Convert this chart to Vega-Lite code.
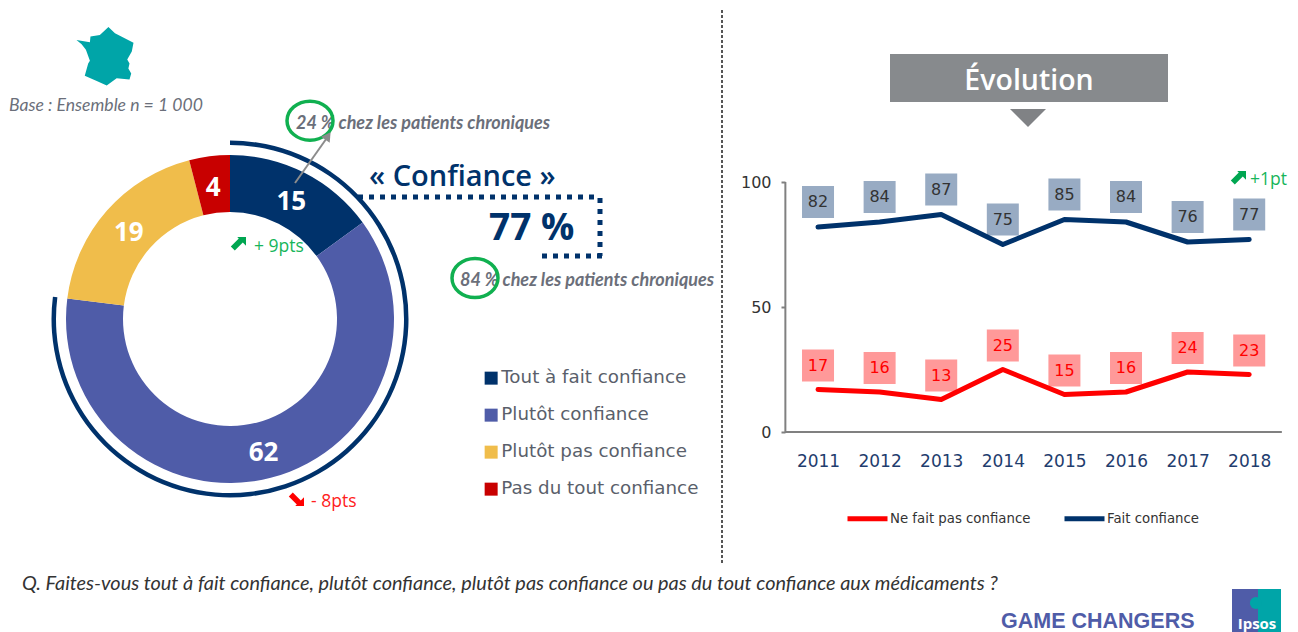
{"$schema":"https://vega.github.io/schema/vega-lite/v6.json","padding":0,"background":"white","spacing":0,"bounds":"flush","resolve":{"scale":{"color":"independent"},"legend":{"color":"independent"}},"config":{"view":{"stroke":null}},
"datasets":{"donut":[{"categorie":"Tout à fait confiance","valeur":15,"ordre":1},{"categorie":"Plutôt confiance","valeur":62,"ordre":2},{"categorie":"Plutôt pas confiance","valeur":19,"ordre":3},{"categorie":"Pas du tout confiance","valeur":4,"ordre":4}],
"evolution":[{"annee":2011,"serie":"Ne fait pas confiance","valeur":17},{"annee":2012,"serie":"Ne fait pas confiance","valeur":16},{"annee":2013,"serie":"Ne fait pas confiance","valeur":13},{"annee":2014,"serie":"Ne fait pas confiance","valeur":25},{"annee":2015,"serie":"Ne fait pas confiance","valeur":15},{"annee":2016,"serie":"Ne fait pas confiance","valeur":16},{"annee":2017,"serie":"Ne fait pas confiance","valeur":24},{"annee":2018,"serie":"Ne fait pas confiance","valeur":23},{"annee":2011,"serie":"Fait confiance","valeur":82},{"annee":2012,"serie":"Fait confiance","valeur":84},{"annee":2013,"serie":"Fait confiance","valeur":87},{"annee":2014,"serie":"Fait confiance","valeur":75},{"annee":2015,"serie":"Fait confiance","valeur":85},{"annee":2016,"serie":"Fait confiance","valeur":84},{"annee":2017,"serie":"Fait confiance","valeur":76},{"annee":2018,"serie":"Fait confiance","valeur":77}]},
"hconcat":[
{"width":785,"height":632,"layer":[
{"data":{"name":"donut"},"transform":[{"stack":"valeur","groupby":[],"sort":[{"field":"ordre","order":"ascending"}],"as":["debut","fin"]}],"mark":{"type":"arc","radius":164,"radius2":107},"encoding":{"x":{"datum":230,"type":"quantitative","scale":{"domain":[0,785]},"axis":null},"y":{"datum":319,"type":"quantitative","scale":{"domain":[632,0]},"axis":null},"theta":{"field":"debut","type":"quantitative","stack":null,"scale":{"domain":[0,100]}},"theta2":{"field":"fin"},"color":{"field":"categorie","type":"nominal","scale":{"domain":["Tout à fait confiance","Plutôt confiance","Plutôt pas confiance","Pas du tout confiance"],"range":["#00326b","#4f5ca8","#f0bd4b","#c80000"]},"legend":{"title":null,"orient":"none","direction":"vertical","legendX":482,"legendY":369,"symbolType":"square","symbolSize":169,"symbolStrokeWidth":0,"labelFont":"DejaVu Sans","labelFontSize":18.3,"labelColor":"#5a5f6b","labelOffset":1,"rowPadding":18,"labelLimit":300}}}},
{"data":{"name":"donut"},"transform":[{"stack":"valeur","groupby":[],"sort":[{"field":"ordre","order":"ascending"}],"as":["debut","fin"]},{"calculate":"(datum.debut+datum.fin)/2","as":"milieu"}],"mark":{"type":"text","radius":135,"dy":3,"font":"Open Sans","fontWeight":"bold","fontSize":26,"color":"white","baseline":"middle","align":"center"},"encoding":{"x":{"datum":230,"type":"quantitative","scale":{"domain":[0,785]},"axis":null},"y":{"datum":319,"type":"quantitative","scale":{"domain":[632,0]},"axis":null},"theta":{"field":"milieu","type":"quantitative","stack":null,"scale":{"domain":[0,100]}},"text":{"field":"valeur","type":"quantitative"}}},
{"data":{"values":[{"debut":0,"confiance":77}]},"mark":{"type":"arc","radius":174,"radius2":178.5,"color":"#00326b"},"encoding":{"x":{"datum":230,"type":"quantitative","scale":{"domain":[0,785]},"axis":null},"y":{"datum":319,"type":"quantitative","scale":{"domain":[632,0]},"axis":null},"theta":{"field":"debut","type":"quantitative","stack":null,"scale":{"domain":[0,100]}},"theta2":{"field":"confiance"}}},
{"data":{"values":[{"t":"France"}]},"mark":{"type":"point","filled":true,"opacity":1,"color":"#00a5a8","size":3249,"shape":"M-1,-.59L-.53,-.51L-.51,-.71L-.18,-.76L.12,-1.04L.35,-.82L1,-.49L.94,-.18L.78,.1L.86,.24L.82,.41L.92,.59L.86,.8L.41,.76L.06,1.01L-.29,.85L-.71,.67L-.59,.24L-.53,.14L-.67,-.24L-.82,-.44Z"},"encoding":{"x":{"datum":105,"type":"quantitative","scale":{"domain":[0,785]},"axis":null},"y":{"datum":56.7,"type":"quantitative","scale":{"domain":[632,0]},"axis":null}}},
{"data":{"values":[{"t":"Base : Ensemble n = 1 000"}]},"mark":{"type":"text","align":"left","baseline":"middle","font":"Lato","fontStyle":"italic","fontSize":17.6,"color":"#6b6f7a"},"encoding":{"x":{"datum":9,"type":"quantitative","scale":{"domain":[0,785]},"axis":null},"y":{"datum":106,"type":"quantitative","scale":{"domain":[632,0]},"axis":null},"text":{"field":"t"}}},
{"data":{"values":[{"t":"24 % chez les patients chroniques"}]},"mark":{"type":"text","align":"left","baseline":"middle","font":"Lato","fontStyle":"italic","fontWeight":"bold","fontSize":18,"color":"#6b6f7a"},"encoding":{"x":{"datum":296,"type":"quantitative","scale":{"domain":[0,785]},"axis":null},"y":{"datum":124,"type":"quantitative","scale":{"domain":[632,0]},"axis":null},"text":{"field":"t"}}},
{"data":{"values":[{"t":"84 % chez les patients chroniques"}]},"mark":{"type":"text","align":"left","baseline":"middle","font":"Lato","fontStyle":"italic","fontWeight":"bold","fontSize":18,"color":"#6b6f7a"},"encoding":{"x":{"datum":460,"type":"quantitative","scale":{"domain":[0,785]},"axis":null},"y":{"datum":281,"type":"quantitative","scale":{"domain":[632,0]},"axis":null},"text":{"field":"t"}}},
{"data":{"values":[{"t":"cercle"}]},"mark":{"type":"point","filled":false,"opacity":1,"color":"#10b050","strokeWidth":3.5,"size":2116,"shape":"M-1,0C-1,-.47,-.55,-.85,0,-.85C.55,-.85,1,-.47,1,0C1,.47,.55,.85,0,.85C-.55,.85,-1,.47,-1,0Z"},"encoding":{"x":{"datum":310,"type":"quantitative","scale":{"domain":[0,785]},"axis":null},"y":{"datum":120.7,"type":"quantitative","scale":{"domain":[632,0]},"axis":null}}},
{"data":{"values":[{"t":"cercle"}]},"mark":{"type":"point","filled":false,"opacity":1,"color":"#10b050","strokeWidth":3.5,"size":2116,"shape":"M-1,0C-1,-.47,-.55,-.85,0,-.85C.55,-.85,1,-.47,1,0C1,.47,.55,.85,0,.85C-.55,.85,-1,.47,-1,0Z"},"encoding":{"x":{"datum":475,"type":"quantitative","scale":{"domain":[0,785]},"axis":null},"y":{"datum":278,"type":"quantitative","scale":{"domain":[632,0]},"axis":null}}},
{"data":{"values":[{"t":"fleche"}]},"mark":{"type":"rule","color":"#8c8c8c","strokeWidth":2},"encoding":{"x":{"datum":295,"type":"quantitative","scale":{"domain":[0,785]},"axis":null},"y":{"datum":183,"type":"quantitative","scale":{"domain":[632,0]},"axis":null},"x2":{"datum":329},"y2":{"datum":135}}},
{"data":{"values":[{"t":"pointe"}]},"mark":{"type":"point","shape":"triangle-up","filled":true,"opacity":1,"color":"#8c8c8c","size":110,"angle":35},"encoding":{"x":{"datum":328,"type":"quantitative","scale":{"domain":[0,785]},"axis":null},"y":{"datum":136,"type":"quantitative","scale":{"domain":[632,0]},"axis":null}}},
{"data":{"values":[{"t":"« Confiance »"}]},"mark":{"type":"text","align":"left","baseline":"middle","font":"Open Sans","fontWeight":600,"fontSize":29,"color":"#00326b"},"encoding":{"x":{"datum":369,"type":"quantitative","scale":{"domain":[0,785]},"axis":null},"y":{"datum":177,"type":"quantitative","scale":{"domain":[632,0]},"axis":null},"text":{"field":"t"}}},
{"data":{"values":[{"t":"77 %"}]},"mark":{"type":"text","align":"left","baseline":"middle","font":"Open Sans","fontWeight":"bold","fontSize":37,"color":"#00326b"},"encoding":{"x":{"datum":489,"type":"quantitative","scale":{"domain":[0,785]},"axis":null},"y":{"datum":229,"type":"quantitative","scale":{"domain":[632,0]},"axis":null},"text":{"field":"t"}}},
{"data":{"values":[{"t":"cadre"}]},"mark":{"type":"rule","color":"#00326b","strokeWidth":5,"strokeDash":[5,6]},"encoding":{"x":{"datum":358,"type":"quantitative","scale":{"domain":[0,785]},"axis":null},"y":{"datum":197,"type":"quantitative","scale":{"domain":[632,0]},"axis":null},"x2":{"datum":600}}},
{"data":{"values":[{"t":"cadre"}]},"mark":{"type":"rule","color":"#00326b","strokeWidth":5,"strokeDash":[5,6]},"encoding":{"x":{"datum":600,"type":"quantitative","scale":{"domain":[0,785]},"axis":null},"y":{"datum":198,"type":"quantitative","scale":{"domain":[632,0]},"axis":null},"y2":{"datum":256}}},
{"data":{"values":[{"t":"cadre"}]},"mark":{"type":"rule","color":"#00326b","strokeWidth":5,"strokeDash":[5,6]},"encoding":{"x":{"datum":542,"type":"quantitative","scale":{"domain":[0,785]},"axis":null},"y":{"datum":256,"type":"quantitative","scale":{"domain":[632,0]},"axis":null},"x2":{"datum":602}}},
{"data":{"values":[{"t":"hausse"}]},"mark":{"type":"point","filled":true,"opacity":1,"color":"#00a651","size":256,"shape":"M-.1,-1L1,-1L1,.1L.6,-.3L-.4,.7L-.9,.2L.1,-.8Z"},"encoding":{"x":{"datum":238,"type":"quantitative","scale":{"domain":[0,785]},"axis":null},"y":{"datum":245,"type":"quantitative","scale":{"domain":[632,0]},"axis":null}}},
{"data":{"values":[{"t":"+ 9pts"}]},"mark":{"type":"text","align":"left","baseline":"middle","font":"Open Sans","fontSize":17.5,"color":"#17b55a"},"encoding":{"x":{"datum":254,"type":"quantitative","scale":{"domain":[0,785]},"axis":null},"y":{"datum":247,"type":"quantitative","scale":{"domain":[632,0]},"axis":null},"text":{"field":"t"}}},
{"data":{"values":[{"t":"baisse"}]},"mark":{"type":"point","filled":true,"opacity":1,"color":"#ff0000","size":256,"shape":"M-.1,1L1,1L1,-.1L.6,.3L-.4,-.7L-.9,-.2L.1,.8Z"},"encoding":{"x":{"datum":296,"type":"quantitative","scale":{"domain":[0,785]},"axis":null},"y":{"datum":498,"type":"quantitative","scale":{"domain":[632,0]},"axis":null}}},
{"data":{"values":[{"t":"- 8pts"}]},"mark":{"type":"text","align":"left","baseline":"middle","font":"Open Sans","fontSize":17.5,"color":"#ff2020"},"encoding":{"x":{"datum":311,"type":"quantitative","scale":{"domain":[0,785]},"axis":null},"y":{"datum":502,"type":"quantitative","scale":{"domain":[632,0]},"axis":null},"text":{"field":"t"}}},
{"data":{"values":[{"t":"separateur"}]},"mark":{"type":"rule","color":"#555555","strokeWidth":2,"strokeDash":[3,2]},"encoding":{"x":{"datum":722,"type":"quantitative","scale":{"domain":[0,785]},"axis":null},"y":{"datum":10,"type":"quantitative","scale":{"domain":[632,0]},"axis":null},"y2":{"datum":565}}},
{"data":{"values":[{"t":"bandeau"}]},"mark":{"type":"rect","color":"#878a8d"},"encoding":{"x":{"datum":890,"type":"quantitative","scale":{"domain":[0,785]},"axis":null},"y":{"datum":54,"type":"quantitative","scale":{"domain":[632,0]},"axis":null},"x2":{"datum":1168},"y2":{"datum":102}}},
{"data":{"values":[{"t":"Évolution"}]},"mark":{"type":"text","align":"center","baseline":"middle","font":"Open Sans","fontWeight":600,"fontSize":28.5,"color":"white"},"encoding":{"x":{"datum":1029,"type":"quantitative","scale":{"domain":[0,785]},"axis":null},"y":{"datum":81,"type":"quantitative","scale":{"domain":[632,0]},"axis":null},"text":{"field":"t"}}},
{"data":{"values":[{"t":"triangle"}]},"mark":{"type":"point","filled":true,"opacity":1,"color":"#808285","size":1296,"shape":"M-1,-.5L1,-.5L0,.5Z"},"encoding":{"x":{"datum":1028,"type":"quantitative","scale":{"domain":[0,785]},"axis":null},"y":{"datum":118,"type":"quantitative","scale":{"domain":[632,0]},"axis":null}}},
{"data":{"values":[{"t":"hausse"}]},"mark":{"type":"point","filled":true,"opacity":1,"color":"#00a651","size":256,"shape":"M-.1,-1L1,-1L1,.1L.6,-.3L-.4,.7L-.9,.2L.1,-.8Z"},"encoding":{"x":{"datum":1238,"type":"quantitative","scale":{"domain":[0,785]},"axis":null},"y":{"datum":179,"type":"quantitative","scale":{"domain":[632,0]},"axis":null}}},
{"data":{"values":[{"t":"+1pt"}]},"mark":{"type":"text","align":"left","baseline":"middle","font":"Open Sans","fontSize":17.5,"color":"#17b55a"},"encoding":{"x":{"datum":1250,"type":"quantitative","scale":{"domain":[0,785]},"axis":null},"y":{"datum":180,"type":"quantitative","scale":{"domain":[632,0]},"axis":null},"text":{"field":"t"}}},
{"data":{"values":[{"t":"Q. Faites-vous tout à fait confiance, plutôt confiance, plutôt pas confiance ou pas du tout confiance aux médicaments ?"}]},"mark":{"type":"text","align":"left","baseline":"middle","font":"Lato","fontStyle":"italic","fontSize":19.9,"color":"#333333","limit":1100},"encoding":{"x":{"datum":22,"type":"quantitative","scale":{"domain":[0,785]},"axis":null},"y":{"datum":584,"type":"quantitative","scale":{"domain":[632,0]},"axis":null},"text":{"field":"t"}}},
{"data":{"values":[{"t":"GAME CHANGERS"}]},"mark":{"type":"text","align":"left","baseline":"middle","font":"Liberation Sans","fontWeight":"bold","fontSize":21.5,"color":"#4f5ca8"},"encoding":{"x":{"datum":1001,"type":"quantitative","scale":{"domain":[0,785]},"axis":null},"y":{"datum":622,"type":"quantitative","scale":{"domain":[632,0]},"axis":null},"text":{"field":"t"}}},
{"data":{"values":[{"t":"logo"}]},"mark":{"type":"rect","color":"#4f5ca8"},"encoding":{"x":{"datum":1232,"type":"quantitative","scale":{"domain":[0,785]},"axis":null},"y":{"datum":589,"type":"quantitative","scale":{"domain":[632,0]},"axis":null},"x2":{"datum":1258},"y2":{"datum":632}}},
{"data":{"values":[{"t":"logo"}]},"mark":{"type":"rect","color":"#00a5a8"},"encoding":{"x":{"datum":1258,"type":"quantitative","scale":{"domain":[0,785]},"axis":null},"y":{"datum":589,"type":"quantitative","scale":{"domain":[632,0]},"axis":null},"x2":{"datum":1281},"y2":{"datum":632}}},
{"data":{"values":[{"t":"logo"}]},"mark":{"type":"point","shape":"circle","filled":true,"opacity":1,"color":"#00a5a8","size":150},"encoding":{"x":{"datum":1256,"type":"quantitative","scale":{"domain":[0,785]},"axis":null},"y":{"datum":603,"type":"quantitative","scale":{"domain":[632,0]},"axis":null}}},
{"data":{"values":[{"t":"Ipsos"}]},"mark":{"type":"text","align":"center","baseline":"middle","font":"Open Sans","fontWeight":"bold","fontSize":15,"color":"white"},"encoding":{"x":{"datum":1257,"type":"quantitative","scale":{"domain":[0,785]},"axis":null},"y":{"datum":624,"type":"quantitative","scale":{"domain":[632,0]},"axis":null},"text":{"field":"t"}}}
]},
{"width":513,"height":632,"layer":[
{"data":{"values":[{"t":"axe"}]},"mark":{"type":"rule","color":"#808080","strokeWidth":2},"encoding":{"x":{"datum":2010.464,"type":"quantitative","scale":{"domain":[2010.464,2018.792]},"axis":{"values":[2011,2012,2013,2014,2015,2016,2017,2018],"format":"d","title":null,"orient":"bottom","offset":-200,"domain":false,"ticks":false,"grid":false,"labelFont":"DejaVu Sans","labelFontSize":17,"labelColor":"#1f3d6e","labelPadding":21,"labelFlush":false,"labelOverlap":false}},"x2":{"datum":2018.53},"y":{"datum":0,"type":"quantitative","scale":{"domain":[-80,172.8]},"axis":{"values":[0,50,100],"title":null,"domain":false,"grid":false,"tickColor":"#808080","tickSize":4,"tickWidth":2,"labelFont":"DejaVu Sans","labelFontSize":16,"labelColor":"#333333","labelPadding":10}}}},
{"data":{"values":[{"t":"axe"}]},"mark":{"type":"rule","color":"#808080","strokeWidth":2},"encoding":{"x":{"datum":2010.47,"type":"quantitative","scale":{"domain":[2010.464,2018.792]},"axis":{"values":[2011,2012,2013,2014,2015,2016,2017,2018],"format":"d","title":null,"orient":"bottom","offset":-200,"domain":false,"ticks":false,"grid":false,"labelFont":"DejaVu Sans","labelFontSize":17,"labelColor":"#1f3d6e","labelPadding":21,"labelFlush":false,"labelOverlap":false}},"y":{"datum":100,"type":"quantitative","scale":{"domain":[-80,172.8]},"axis":{"values":[0,50,100],"title":null,"domain":false,"grid":false,"tickColor":"#808080","tickSize":4,"tickWidth":2,"labelFont":"DejaVu Sans","labelFontSize":16,"labelColor":"#333333","labelPadding":10}},"y2":{"datum":0}}},
{"data":{"name":"evolution"},"transform":[{"filter":"datum.serie === 'Fait confiance'"}],"mark":{"type":"square","size":1024,"opacity":1,"color":"#98abc3","yOffset":-25},"encoding":{"x":{"field":"annee","type":"quantitative","scale":{"domain":[2010.464,2018.792]},"axis":{"values":[2011,2012,2013,2014,2015,2016,2017,2018],"format":"d","title":null,"orient":"bottom","offset":-200,"domain":false,"ticks":false,"grid":false,"labelFont":"DejaVu Sans","labelFontSize":17,"labelColor":"#1f3d6e","labelPadding":21,"labelFlush":false,"labelOverlap":false}},"y":{"field":"valeur","type":"quantitative","scale":{"domain":[-80,172.8]},"axis":{"values":[0,50,100],"title":null,"domain":false,"grid":false,"tickColor":"#808080","tickSize":4,"tickWidth":2,"labelFont":"DejaVu Sans","labelFontSize":16,"labelColor":"#333333","labelPadding":10}}}},
{"data":{"name":"evolution"},"transform":[{"filter":"datum.serie === 'Ne fait pas confiance'"}],"mark":{"type":"square","size":1024,"opacity":1,"color":"#ff9999","yOffset":-24},"encoding":{"x":{"field":"annee","type":"quantitative","scale":{"domain":[2010.464,2018.792]},"axis":{"values":[2011,2012,2013,2014,2015,2016,2017,2018],"format":"d","title":null,"orient":"bottom","offset":-200,"domain":false,"ticks":false,"grid":false,"labelFont":"DejaVu Sans","labelFontSize":17,"labelColor":"#1f3d6e","labelPadding":21,"labelFlush":false,"labelOverlap":false}},"y":{"field":"valeur","type":"quantitative","scale":{"domain":[-80,172.8]},"axis":{"values":[0,50,100],"title":null,"domain":false,"grid":false,"tickColor":"#808080","tickSize":4,"tickWidth":2,"labelFont":"DejaVu Sans","labelFontSize":16,"labelColor":"#333333","labelPadding":10}}}},
{"data":{"name":"evolution"},"mark":{"type":"line","strokeWidth":5,"strokeCap":"round","strokeJoin":"round"},"encoding":{"x":{"field":"annee","type":"quantitative","scale":{"domain":[2010.464,2018.792]},"axis":{"values":[2011,2012,2013,2014,2015,2016,2017,2018],"format":"d","title":null,"orient":"bottom","offset":-200,"domain":false,"ticks":false,"grid":false,"labelFont":"DejaVu Sans","labelFontSize":17,"labelColor":"#1f3d6e","labelPadding":21,"labelFlush":false,"labelOverlap":false}},"y":{"field":"valeur","type":"quantitative","scale":{"domain":[-80,172.8]},"axis":{"values":[0,50,100],"title":null,"domain":false,"grid":false,"tickColor":"#808080","tickSize":4,"tickWidth":2,"labelFont":"DejaVu Sans","labelFontSize":16,"labelColor":"#333333","labelPadding":10}},"color":{"field":"serie","type":"nominal","scale":{"domain":["Ne fait pas confiance","Fait confiance"],"range":["#ff0000","#00326b"]},"legend":{"title":null,"orient":"none","legendX":60,"legendY":496,"direction":"horizontal","columns":2,"symbolType":"stroke","symbolSize":1600,"symbolStrokeWidth":5,"labelFont":"DejaVu Sans","labelFontSize":13.3,"labelColor":"#333333","labelOffset":0,"columnPadding":23,"labelLimit":300}}}},
{"data":{"name":"evolution"},"transform":[{"filter":"datum.serie === 'Fait confiance'"}],"mark":{"type":"text","font":"DejaVu Sans","fontSize":16,"color":"#333333","yOffset":-25,"baseline":"middle"},"encoding":{"x":{"field":"annee","type":"quantitative","scale":{"domain":[2010.464,2018.792]},"axis":{"values":[2011,2012,2013,2014,2015,2016,2017,2018],"format":"d","title":null,"orient":"bottom","offset":-200,"domain":false,"ticks":false,"grid":false,"labelFont":"DejaVu Sans","labelFontSize":17,"labelColor":"#1f3d6e","labelPadding":21,"labelFlush":false,"labelOverlap":false}},"y":{"field":"valeur","type":"quantitative","scale":{"domain":[-80,172.8]},"axis":{"values":[0,50,100],"title":null,"domain":false,"grid":false,"tickColor":"#808080","tickSize":4,"tickWidth":2,"labelFont":"DejaVu Sans","labelFontSize":16,"labelColor":"#333333","labelPadding":10}},"text":{"field":"valeur","type":"quantitative"}}},
{"data":{"name":"evolution"},"transform":[{"filter":"datum.serie === 'Ne fait pas confiance'"}],"mark":{"type":"text","font":"DejaVu Sans","fontSize":16,"color":"#ff0000","yOffset":-24,"baseline":"middle"},"encoding":{"x":{"field":"annee","type":"quantitative","scale":{"domain":[2010.464,2018.792]},"axis":{"values":[2011,2012,2013,2014,2015,2016,2017,2018],"format":"d","title":null,"orient":"bottom","offset":-200,"domain":false,"ticks":false,"grid":false,"labelFont":"DejaVu Sans","labelFontSize":17,"labelColor":"#1f3d6e","labelPadding":21,"labelFlush":false,"labelOverlap":false}},"y":{"field":"valeur","type":"quantitative","scale":{"domain":[-80,172.8]},"axis":{"values":[0,50,100],"title":null,"domain":false,"grid":false,"tickColor":"#808080","tickSize":4,"tickWidth":2,"labelFont":"DejaVu Sans","labelFontSize":16,"labelColor":"#333333","labelPadding":10}},"text":{"field":"valeur","type":"quantitative"}}}
]}
]}
